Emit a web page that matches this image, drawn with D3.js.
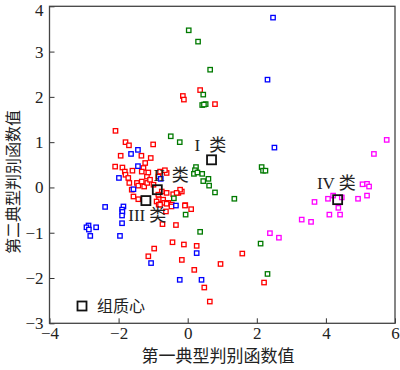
<!DOCTYPE html>
<html><head><meta charset="utf-8">
<script src="https://cdn.jsdelivr.net/npm/d3@7"></script>
<style>body{margin:0;background:#fff}svg{display:block}</style>
</head><body><svg id="c" width="400" height="370"></svg>
<script>
// Group I (green)
const groupI = [[0.03,3.47],[0.30,3.22],[0.65,2.60],[0.45,2.05],[0.42,1.82],[0.52,1.84],[0.47,1.83],[-0.49,1.13],[-0.23,1.00],[2.14,0.45],[2.18,0.37],[2.25,0.37],[0.24,0.45],[0.21,0.38],[0.18,0.30],[0.28,0.33],[0.42,0.30],[0.45,0.14],[0.60,0.19],[0.62,0.04],[0.79,-0.11],[1.35,-0.25],[-0.40,-0.24],[-0.06,-0.60],[0.36,-0.98],[2.11,-1.24],[2.31,-1.91]];
// Group II (red)
const groupII = [[0.36,2.15],[-0.14,2.02],[-0.11,1.94],[0.79,1.84],[-2.09,1.25],[-1.80,1.00],[-1.70,0.93],[-1.00,0.95],[-1.94,0.70],[-1.34,0.70],[-1.07,0.65],[-2.10,0.46],[-1.89,0.44],[-1.23,0.54],[-1.28,0.43],[-1.82,0.35],[-1.60,0.37],[-1.80,0.28],[-1.72,0.21],[-1.69,0.10],[-1.47,0.10],[-1.62,-0.05],[-1.43,0.04],[-1.33,0.13],[-1.18,0.24],[-1.14,0.33],[-1.26,0.02],[-1.17,0.10],[-1.09,0.17],[-1.57,-0.20],[-1.43,-0.26],[-0.61,0.32],[-0.80,0.35],[-0.66,0.38],[-0.85,0.24],[-0.99,0.06],[-1.33,0.35],[-0.83,-0.26],[-0.71,-0.27],[-0.56,-0.34],[-0.68,-0.34],[-0.90,-0.31],[-0.84,-0.38],[-0.46,-0.38],[-0.27,-0.12],[-0.17,-0.09],[-0.22,-0.05],[-0.42,-0.15],[-0.61,-0.12],[-0.32,-0.12],[-0.75,-0.09],[-0.85,-0.16],[-0.07,-0.39],[0.10,-0.48],[-0.08,-0.40],[-0.63,-0.53],[-0.80,-0.38],[-0.61,-0.36],[-0.47,-0.42],[-0.73,-0.81],[-0.34,-0.83],[-0.44,-1.21],[-0.11,-1.26],[0.26,-1.29],[-0.97,-1.35],[-1.14,-1.52],[-0.17,-1.60],[0.19,-1.82],[0.95,-1.69],[1.58,-1.46],[0.48,-2.21],[2.21,-2.10],[0.64,-2.52]];
// Group III (blue)
const groupIII = [[2.47,3.75],[2.31,2.38],[2.51,0.88],[-1.44,0.83],[-1.64,0.74],[-1.44,0.47],[-1.99,0.21],[-1.57,-0.04],[-0.78,0.19],[-2.39,-0.43],[-1.86,-0.42],[-1.90,-0.49],[-1.89,-0.54],[-1.90,-0.62],[-1.90,-0.79],[-2.87,-0.84],[-2.65,-0.88],[-2.93,-0.88],[-2.86,-0.93],[-2.82,-1.07],[-1.96,-1.07],[-0.34,-0.40],[0.26,-1.45],[-1.06,-1.67],[-0.23,-2.04],[0.40,-2.04]];
// Group IV (magenta)
const groupIV = [[5.76,1.05],[5.39,0.74],[5.06,0.07],[5.19,0.08],[5.25,0.02],[5.19,-0.18],[4.93,-0.25],[4.46,-0.22],[4.21,-0.18],[4.06,-0.25],[3.67,-0.32],[4.36,-0.45],[4.10,-0.60],[4.41,-0.60],[3.30,-0.71],[3.57,-0.76],[2.38,-1.01],[2.64,-1.11]];
const centroids = [[0.69,0.61],[-0.88,-0.05],[-1.21,-0.29],[4.34,-0.27]];
const centroidLabels = [["I",0.20,0.80],["II",-0.99,0.15],["III",-1.72,-0.75],["IV",3.74,-0.03]];
const xTicks = [-4,-2,0,2,4,6];
const yTicks = [-3,-2,-1,0,1,2,3,4];
const groups = [{pts:groupII,color:"#ff0000"},{pts:groupI,color:"#007a00"},{pts:groupIII,color:"#0000ff"},{pts:groupIV,color:"#ff00ff"}];

const svg = d3.select("#c");
const x = d3.scaleLinear().domain([-4,6]).range([49.5,395]);
const y = d3.scaleLinear().domain([-3,4]).range([323.3,6.3]);
const serif = "Liberation Serif, DejaVu Serif, serif";
const cjk = "Noto Sans CJK SC, sans-serif";
const fmt = d3.format("d");

const xa = svg.append("g").attr("transform","translate(0,323.3)")
  .call(d3.axisBottom(x).tickValues(xTicks).tickFormat(fmt).tickSizeInner(-5).tickSizeOuter(0).tickPadding(4));
const ya = svg.append("g").attr("transform","translate(49.5,0)")
  .call(d3.axisLeft(y).tickValues(yTicks).tickFormat(fmt).tickSizeInner(-5).tickSizeOuter(0).tickPadding(6));
[xa,ya].forEach(a=>{
  a.attr("font-family",serif).attr("font-size",17);
  a.select(".domain").remove();
  a.selectAll("line").attr("stroke","#333").attr("stroke-width",1);
  a.selectAll("text").attr("fill","#222");
});
ya.selectAll(".tick").filter(d=>d===4).select("text").attr("dy","0.55em");
svg.append("rect").attr("x",49.5).attr("y",6.3).attr("width",345.5).attr("height",317)
  .attr("fill","none").attr("stroke","#444").attr("stroke-width",1.3);

const s = 4.4;
groups.forEach(g=>{
  svg.append("g").selectAll("rect").data(g.pts).join("rect")
    .attr("x",d=>x(d[0])-s/2).attr("y",d=>y(d[1])-s/2)
    .attr("width",s).attr("height",s)
    .attr("fill","#fff").attr("stroke",g.color).attr("stroke-width",1.3);
});
const cs = 9;
svg.append("g").selectAll("rect").data(centroids).join("rect")
  .attr("x",d=>x(d[0])-cs/2).attr("y",d=>y(d[1])-cs/2)
  .attr("width",cs).attr("height",cs)
  .attr("fill","none").attr("stroke","#111").attr("stroke-width",1.8);

const gapPx = {"I":9,"II":7,"III":4,"IV":4};
const lab = svg.append("g").selectAll("text").data(centroidLabels).join("text")
  .attr("x",d=>x(d[1])).attr("y",d=>y(d[2]))
  .attr("font-size",17).attr("fill","#222");
lab.append("tspan").attr("font-family",serif).text(d=>d[0]);
lab.append("tspan").attr("font-family",cjk).attr("font-size",17).attr("dx",d=>gapPx[d[0]]).text("类");

// legend
svg.append("rect").attr("x",77.5).attr("y",301.5).attr("width",9).attr("height",9)
  .attr("fill","none").attr("stroke","#111").attr("stroke-width",1.8);
svg.append("text").attr("x",97).attr("y",312).attr("font-family",cjk).attr("font-size",16)
  .attr("fill","#222").text("组质心");

svg.append("text").attr("x",218).attr("y",362).attr("text-anchor","middle")
  .attr("font-family",cjk).attr("font-size",17).attr("fill","#222").text("第一典型判别函数值");
svg.append("text").attr("transform","translate(19,182) rotate(-90)").attr("text-anchor","middle")
  .attr("font-family",cjk).attr("font-size",16).attr("fill","#222").text("第二典型判别函数值");
</script></body></html>
